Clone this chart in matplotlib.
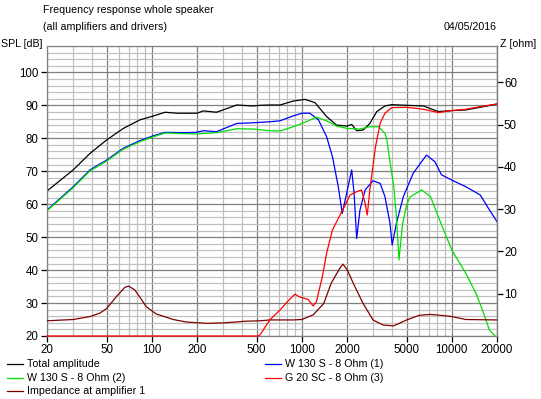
import matplotlib
matplotlib.use("Agg")
import matplotlib.pyplot as plt
from matplotlib.lines import Line2D
import numpy as np

plt.rcParams['font.family'] = ['Liberation Sans', 'DejaVu Sans']
plt.rcParams['font.size'] = 7.7

# total amplitude
tot_f = [20, 29.9, 38.7, 50, 64.6, 83.4, 103, 122.6, 147, 200, 220, 270, 368, 470, 526,
         612, 716, 878, 1050, 1225, 1462, 1704, 2000, 2150, 2320, 2560, 2840, 3160, 3580,
         3980, 5000, 6460, 8130, 10000, 12400, 15460, 20000]
tot_db = [64.0, 70.4, 75.4, 79.5, 83.0, 85.6, 86.8, 87.9, 87.6, 87.6, 88.3, 87.9, 90.1, 89.8, 90.0,
          90.1, 90.1, 91.3, 91.8, 90.8, 86.6, 84.0, 83.7, 84.2, 82.3, 82.5, 84.5, 88.1, 89.8,
          90.2, 90.0, 89.8, 88.1, 88.4, 88.6, 89.4, 90.4]

# W 130 S - 8 Ohm (1)
w1_f = [20, 29.9, 38.7, 50, 64.6, 83.4, 103, 122.6, 170, 197, 222, 270, 368, 470, 612,
        716, 878, 1000, 1130, 1290, 1462, 1600, 1750, 1860, 2010, 2150, 2230, 2320, 2440,
        2640, 2980, 3330, 3580, 3870, 4000, 4270, 4750, 5530, 6770, 7700, 8540, 10000,
        12400, 15460, 17500, 20000]
w1_db = [58.2, 65.3, 70.4, 73.4, 77.0, 79.3, 80.8, 81.8, 81.7, 81.8, 82.3, 82.0, 84.5, 84.7, 85.0,
         85.3, 86.8, 87.6, 87.6, 85.6, 80.5, 74.4, 65.3, 57.2, 64.3, 70.4, 63.3, 49.6, 58.2,
         64.3, 67.1, 66.3, 62.3, 54.2, 47.6, 54.2, 62.3, 69.4, 74.9, 72.9, 68.9, 67.3,
         65.3, 62.8, 58.8, 54.7]

# W 130 S - 8 Ohm (2)
w2_f = [20, 29.9, 38.7, 50, 64.6, 83.4, 103, 122.6, 197, 270, 368, 470, 612, 716, 878,
        1070, 1250, 1462, 1704, 2000, 2440, 2840, 3250, 3580, 3690, 3770, 4100, 4270, 4440,
        4700, 5000, 5260, 6290, 7200, 8540, 10000, 12400, 14500, 16000, 17800, 20000]
w2_db = [58.0, 65.0, 70.1, 73.1, 76.7, 79.0, 80.5, 81.6, 81.3, 81.7, 82.9, 82.8, 82.3, 82.2, 83.5,
         85.0, 86.4, 85.3, 83.7, 83.0, 82.8, 83.5, 83.5, 81.5, 79.5, 76.4, 65.3, 56.2, 43.1,
         54.2, 59.8, 62.2, 64.3, 62.3, 53.7, 46.1, 39.0, 32.9, 27.9, 21.8, 19.4]

# G 20 SC - 8 Ohm (3)
g_f = [20, 100, 300, 510, 526, 612, 716, 820, 900, 960, 1100, 1190, 1250, 1370, 1462,
       1600, 1820, 2100, 2320, 2500, 2640, 2730, 2840, 3100, 3330, 3580, 3980, 5000,
       6460, 8130, 10000, 12400, 15460, 20000]
g_db = [20, 20, 20, 20, 20.3, 24.9, 27.9, 30.9, 32.7, 31.9, 31.1, 29.1, 30.4, 38.0, 45.1,
        52.2, 57.2, 62.8, 63.8, 64.3, 60.3, 56.7, 64.3, 77.5, 84.6, 87.6, 89.3, 89.4,
        88.8, 87.8, 88.4, 88.8, 89.6, 90.4]

# impedance at amplifier 1 [ohm]
z_f = [20, 29.9, 38.7, 45, 50, 58, 66, 70, 77, 92, 107, 139, 170, 232, 300, 425, 526,
       612, 878, 1000, 1190, 1400, 1570, 1790, 1880, 2010, 2200, 2560, 2980, 3480, 4100,
       5000, 6070, 7200, 8400, 10000, 12400, 20000]
z_ohm = [3.6, 3.9, 4.6, 5.4, 6.5, 9.3, 11.5, 11.8, 10.9, 6.9, 5.2, 3.9, 3.3, 3.0, 3.1, 3.5, 3.6,
         3.8, 3.8, 3.9, 5.0, 7.7, 12.5, 16.0, 17.0, 15.6, 12.5, 7.7, 3.8, 2.6, 2.4,
         3.8, 4.9, 5.1, 4.9, 4.6, 3.9, 3.8]

xticks = [20, 50, 100, 200, 500, 1000, 2000, 5000, 10000, 20000]
minor_x = [30, 40, 60, 70, 80, 90, 300, 400, 600, 700, 800, 900,
           3000, 4000, 6000, 7000, 8000, 9000]

fig = plt.figure(figsize=(5.41, 3.99), dpi=100)
ax = fig.add_axes([47 / 541, 63 / 399, 450 / 541, 290 / 399])
ax2 = ax.twinx()

lw = 0.9
ax.plot(tot_f, tot_db, color='black', lw=lw)
ax.plot(w1_f, w1_db, color='#0000ff', lw=lw)
ax.plot(w2_f, w2_db, color='#00e000', lw=lw)
ax2.plot(z_f, z_ohm, color='#800000', lw=lw)
# red on the top axes so the bottom spine does not hide its 20 dB floor
ax2.plot(g_f, (np.array(g_db) - 20) * 68.6 / 88, color='#ff0000', lw=lw,
         clip_on=False, zorder=3)

ax.set_xscale('log')
ax.set_xlim(20, 20000)
ax.set_ylim(20, 108)
ax2.set_ylim(0, 68.6)

ax.set_xticks(xticks)
ax.set_xticklabels([str(t) for t in xticks])
ax.set_xticks(minor_x, minor=True)
ax.set_xticklabels([], minor=True)
ax.set_yticks(np.arange(20, 101, 10))
ax.set_yticks(np.arange(22, 109, 2), minor=True)
ax2.set_yticks([10, 20, 30, 40, 50, 60])

ax.grid(which='minor', color='#c0c0c0', lw=0.9)
ax.grid(which='major', color='#808080', lw=0.9)
ax.set_axisbelow(True)
ax.tick_params(which='minor', length=0)
ax.tick_params(which='major', length=4, width=0.9, color='black', pad=2, labelsize=8.3)
ax2.tick_params(length=4, width=0.9, color='black', pad=1, labelsize=8.3)

for s in ax.spines.values():
    s.set_color('#808080')
    s.set_linewidth(0.9)
for name, s in ax2.spines.items():
    s.set_color('#808080')
    s.set_linewidth(0.9)
    s.set_visible(name == 'right')

fig.text(43 / 541, 1 - 10 / 399, 'Frequency response whole speaker', va='center', ha='left')
fig.text(43 / 541, 1 - 27 / 399, '(all amplifiers and drivers)', va='center', ha='left')
fig.text(497 / 541, 1 - 27 / 399, '04/05/2016', va='center', ha='right')
fig.text(1 / 541, 1 - 44 / 399, 'SPL [dB]', va='center', ha='left')
fig.text(500 / 541, 1 - 44 / 399, 'Z [ohm]', va='center', ha='left')

legend = [
    ('Total amplitude', 'black', 7, 364),
    ('W 130 S - 8 Ohm (1)', '#0000ff', 265, 364),
    ('W 130 S - 8 Ohm (2)', '#00e000', 7, 378),
    ('G 20 SC - 8 Ohm (3)', '#ff0000', 265, 378),
    ('Impedance at amplifier 1', '#800000', 7, 391),
]
for label, col, x0, y0 in legend:
    yy = 1 - y0 / 399
    fig.add_artist(Line2D([x0 / 541, (x0 + 16) / 541], [yy, yy], color=col, lw=lw))
    fig.text((x0 + 20) / 541, yy, label, va='center', ha='left')

fig.savefig('out.png', dpi=100)
